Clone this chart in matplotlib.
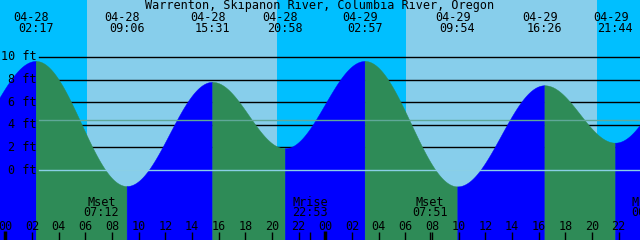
import numpy as np
import matplotlib.pyplot as plt
from matplotlib import transforms

# Tide extremes (hours from 04-28 00:00, height in ft)
tide_hours = [-3.75, 2.283, 9.100, 15.517, 20.967, 26.950, 33.900, 40.433, 45.733, 51.67]
tide_feet = [2.0, 9.65, -1.42, 7.8, 1.92, 9.65, -1.45, 7.5, 2.42, 9.5]
label_dates = ["04-28", "04-28", "04-28", "04-28", "04-29", "04-29", "04-29", "04-29"]
label_times = ["02:17", "09:06", "15:31", "20:58", "02:57", "09:54", "16:26", "21:44"]

# Sunrise / sunset (hours)
sunrise = [6.15, 30.08]
sunset = [20.40, 44.41]

# Moon events
moon_hours = [7.20, 22.883, 31.85, 48.27]
moon_names = ["Mset", "Mrise", "Mset", "Mrise"]
moon_times = ["07:12", "22:53", "07:51", "00:16"]

title = "Warrenton, Skipanon River, Columbia River, Oregon"
ft_levels = [10, 8, 6, 4, 2, 0]
msl = 4.4

W, H = 640, 240
X0, PX_H = 5.3, 320 / 24.0
Y0, PX_FT = 170.0, 11.3

night = "#00BFFF"
day = "#87CEEB"
rise = "#0000FF"
fall = "#2E8B57"
font = dict(family="DejaVu Sans Mono", fontsize=8.5, color="black")

fig = plt.figure(figsize=(6.4, 2.4), dpi=100)
ax = fig.add_axes([0, 0, 1, 1])
ax.axis("off")
xmin, xmax = -X0 / PX_H, (W - X0) / PX_H
ymin, ymax = (Y0 - H) / PX_FT, Y0 / PX_FT
ax.set_xlim(xmin, xmax)
ax.set_ylim(ymin, ymax)

def px(x):
    return x / PX_H

# background
ax.axvspan(xmin, xmax, color=night, lw=0, zorder=0)
for r, s in zip(sunrise, sunset):
    ax.axvspan(r, s, color=day, lw=0, zorder=0.5)

# grid lines behind the water
for lv in ft_levels[:-1]:
    ax.plot([px(39) + xmin, xmax], [lv, lv], color="black", lw=1.0, zorder=1)

# tide curve between extremes
for i in range(len(tide_hours) - 1):
    t0, t1 = tide_hours[i], tide_hours[i + 1]
    h0, h1 = tide_feet[i], tide_feet[i + 1]
    t = np.linspace(t0, t1, 300)
    h = h0 + (h1 - h0) * (1 - np.cos(np.pi * (t - t0) / (t1 - t0))) / 2
    c = rise if h1 > h0 else fall
    ax.fill_between(t, h, ymin, color=c, lw=0.3, edgecolor=c, zorder=2)

# datum and mean level lines
ax.plot([px(39) + xmin, xmax], [0, 0], color="#8ACFE6", lw=1.0, zorder=3)
ax.plot([px(39) + xmin, xmax], [msl, msl], color="#60A898", lw=1.0, zorder=3)

# depth labels
for lv in ft_levels:
    ax.text(px(37) + xmin, lv, f"{lv} ft", ha="right", va="center", zorder=5, **font)

tr = transforms.blended_transform_factory(ax.transData, ax.transAxes)

def yf(py):
    return 1 - py / H

ax.text(0.5, yf(6), title, transform=ax.transAxes, ha="center", va="center", zorder=5, **font)

# tide event labels
for t, d, s in zip(tide_hours[1:-1], label_dates, label_times):
    ax.text(t - px(4.5), yf(17.5), d, transform=tr, ha="center", va="center", zorder=5, **font)
    ax.text(t, yf(29), s, transform=tr, ha="center", va="center", zorder=5, **font)

# moon labels
for t, n, s in zip(moon_hours, moon_names, moon_times):
    ax.text(t, yf(202), n, transform=tr, ha="center", va="center", zorder=5, **font)
    ax.text(t, yf(213), s, transform=tr, ha="center", va="center", zorder=5, **font)

# hour labels and ticks
for hr in range(0, 48, 2):
    ax.text(hr, yf(226), f"{hr % 24:02d}", transform=tr, ha="center", va="center", zorder=5, **font)
    if hr % 24 == 0:
        ax.plot([hr, hr], [yf(231), 0], transform=tr, color="black", lw=2.5, zorder=5, solid_capstyle="butt")
    else:
        ax.plot([hr, hr], [yf(232), 0], transform=tr, color="black", lw=1.0, zorder=5, solid_capstyle="butt")
for t in moon_hours[1:3]:
    ax.plot([t, t], [yf(232), 0], transform=tr, color="black", lw=1.0, zorder=5, solid_capstyle="butt")

fig.savefig("out.png", dpi=100)
